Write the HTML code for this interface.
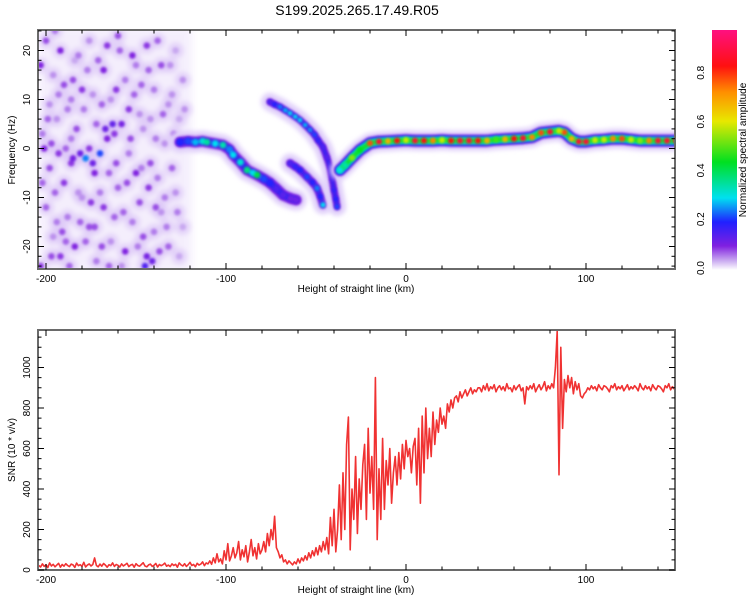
<!DOCTYPE html>
<html><head><meta charset="utf-8"><style>
html,body{margin:0;padding:0;background:#fff;}
svg{display:block;font-family:"Liberation Sans",sans-serif;}
</style></head><body>
<svg id="chart" width="750" height="600" viewBox="0 0 750 600">
<defs>
<filter id="blur1" x="-50%" y="-50%" width="200%" height="200%"><feGaussianBlur stdDeviation="1.2"/></filter>
<filter id="blur2" x="-50%" y="-50%" width="200%" height="200%"><feGaussianBlur stdDeviation="2.5"/></filter>
<filter id="blur4" x="-20%" y="-20%" width="140%" height="140%"><feGaussianBlur stdDeviation="4"/></filter>
<clipPath id="clipTop"><rect x="38" y="30" width="637" height="239"/></clipPath>
<clipPath id="clipBot"><rect x="38" y="330" width="637" height="240"/></clipPath>
<linearGradient id="cbar" x1="0" y1="1" x2="0" y2="0">
<stop offset="0" stop-color="#ffffff"/><stop offset="0.04" stop-color="#c8a8f0"/>
<stop offset="0.1" stop-color="#8020e0"/><stop offset="0.2" stop-color="#2020ff"/>
<stop offset="0.3" stop-color="#00e0f0"/><stop offset="0.45" stop-color="#00e020"/>
<stop offset="0.62" stop-color="#e8e800"/><stop offset="0.74" stop-color="#ff9000"/>
<stop offset="0.85" stop-color="#ff1010"/><stop offset="1" stop-color="#ff1080"/>
</linearGradient>
</defs>
<text x="357" y="15" font-size="14" text-anchor="middle" fill="#000">S199.2025.265.17.49.R05</text>
<g id="topPanel"></g>
<g id="botPanel"></g>
<g id="cb">
<rect x="712" y="30" width="25" height="240" fill="url(#cbar)"/>
<text transform="translate(746,150) rotate(-90)" font-size="10" text-anchor="middle">Normalized spectral amplitude</text>
</g>
</svg>
<script>
// ---------- data ----------
const xTicks = [-200, -100, 0, 100];
const freqTicks = [-20, -10, 0, 10, 20];
const snrTicks = [0, 200, 400, 600, 800, 1000];
const cbTicks = [0.0, 0.2, 0.4, 0.6, 0.8];
const noiseRegionKm = [-204, -119];
// ridge branches: [km, Hz, amplitude]
const ridgeMain = [[-125.6,1.3,.2],[-121,1.5,.22],[-117,1.3,.28],[-113,1.5,.32],[-110.6,1.3,.36],[-106,1.0,.3],[-101.7,0.7,.35],[-98,-0.2,.25],[-96,-1.3,.3],[-92,-2.8,.32],[-88.3,-4.4,.38],[-85,-5.0,.3],[-82.8,-5.4,.42],[-79,-6.2,.22],[-75.6,-7.0,.2],[-72,-8.2,.15],[-68.3,-9.5,.14],[-64,-10.2,.12],[-61,-10.5,.12]];
const ridgeMid = [[-64.4,-3.0,.15],[-61.5,-3.7,.18],[-58.9,-4.4,.2],[-55,-5.8,.22],[-52,-6.9,.2],[-49.4,-8.1,.25],[-47.5,-9.8,.2],[-46.1,-11.5,.3]];
const ridgeUpper = [[-75.6,9.5,.15],[-73,9.0,.2],[-70,8.5,.25],[-67,7.8,.28],[-64.4,7.2,.3],[-61.5,6.5,.3],[-58.9,5.8,.3],[-56,4.8,.28],[-53.3,3.8,.26],[-50.8,2.8,.22],[-48.9,1.7,.18],[-46.1,0.3,.15],[-44,-1.8,.14],[-42.2,-3.8,.15],[-41,-6.2,.15],[-40,-8.5,.18],[-39,-10.3,.2],[-38.3,-11.9,.22]];
const ridgeRight = [[-36.7,-4.4,.3],[-33.9,-3.4,.35],[-30,-1.9,.55],[-25.6,-0.3,.45],[-20,1.1,.8],[-15,1.4,.9],[-10,1.5,.7],[-5,1.6,.85],[0,1.7,.6],[5,1.6,.9],[10,1.6,.85],[15,1.6,.75],[20,1.7,.6],[25,1.6,.85],[30,1.6,.9],[35,1.6,.9],[40,1.6,.85],[45,1.6,.7],[50,1.8,.5],[55,1.9,.7],[60,2.0,.85],[65,2.1,.9],[70,2.3,.75],[75,3.2,.8],[80,3.4,.9],[85,3.6,.6],[88,3.3,.8],[92,2.0,.7],[96,1.4,.9],[100,1.4,.9],[105,1.7,.6],[110,1.8,.6],[115,2.0,.75],[120,2.0,.8],[125,1.8,.6],[130,1.6,.55],[135,1.6,.75],[140,1.6,.9],[145,1.6,.9],[150,1.6,.9]];
const noiseBlobs = [[-200,22,.08],[-196,15,.05],[-192,20,.1],[-188,8,.06],[-184,18,.04],[-180,12,.09],[-176,22,.05],[-172,5,.07],[-168,16,.1],[-164,10,.05],[-160,23,.08],[-156,14,.06],[-152,19,.1],[-148,7,.05],[-144,21,.09],[-140,12,.06],[-136,17,.08],[-132,9,.05],[-128,20,.04],[-124,14,.05],
[-202,3,.06],[-198,-4,.08],[-194,6,.05],[-190,-7,.09],[-186,2,.06],[-182,-9,.05],[-178,-2,.25],[-174,-3,.12],[-170,-1,.22],[-166,2,.1],[-162,3,.09],[-158,5,.11],[-154,-1,.06],[-150,-5,.1],[-146,4,.05],[-142,-3,.08],[-138,-6,.06],[-134,1,.05],[-130,-4,.07],[-126,6,.04],
[-200,-12,.07],[-196,-18,.05],[-192,-22,.09],[-188,-14,.06],[-184,-20,.1],[-180,-10,.05],[-176,-16,.08],[-172,-23,.06],[-168,-12,.09],[-164,-19,.05],[-160,-8,.07],[-156,-21,.1],[-152,-15,.06],[-148,-11,.08],[-144,-22,.11],[-140,-17,.06],[-136,-13,.05],[-132,-20,.07],[-128,-9,.05],[-124,-16,.04],
[-203,-24,.09],[-198,9,.05],[-194,-15,.06],[-190,13,.08],[-186,-3,.09],[-182,19,.06],[-178,-19,.07],[-174,11,.05],[-170,-9,.06],[-166,21,.09],[-162,-14,.07],[-158,-24,.05],[-154,8,.09],[-150,17,.06],[-146,-18,.08],[-142,6,.05],[-138,22,.07],[-134,-10,.06],[-130,11,.05],[-126,-22,.04],
[-201,0,.1],[-197,1,.08],[-193,-1,.09],[-189,0,.07],[-185,-2,.11],[-181,-1,.12],[-176,0,.09],[-173,-5,.1],[-167,4,.12],[-163,5,.13],[-145,-24,.15],[-141,-23,.12],[-155,-7,.08],[-186,10,.06],[-131,17,.05],[-195,-9,.07],
[-203,17,.1],[-199,6,.07],[-195,24,.06],[-191,-17,.08],[-187,-24,.07],[-183,4,.08],[-179,8,.06],[-175,-11,.09],[-171,18,.07],[-169,-20,.08],[-165,-5,.07],[-161,12,.09],[-157,-13,.07],[-153,2,.08],[-149,-20,.06],[-147,13,.07],[-143,-8,.09],[-139,2,.06],[-137,-21,.08],[-135,7,.07],
[-202,-7,.07],[-197,-22,.08],[-193,11,.06],[-189,-19,.07],[-185,14,.08],[-181,-15,.07],[-177,16,.06],[-173,-16,.08],[-169,9,.07],[-165,-24,.07],[-161,-3,.08],[-159,20,.07],[-151,11,.07],[-147,-4,.06],[-143,16,.07],[-139,-12,.08],[-133,-16,.06],[-129,3,.06],[-127,-13,.06],[-123,8,.05]];
// SNR sampled every 1 km starting at -204 km
const snrStartKm = -204;
const snrValues = [22,15,30,18,26,12,35,20,28,16,24,33,14,27,19,31,22,17,29,25,
13,34,21,26,18,38,15,24,30,20,27,60,22,16,29,19,32,24,14,26,
21,35,18,27,23,15,30,20,26,33,17,24,28,14,31,22,19,27,36,20,
16,25,29,18,23,32,15,27,21,26,34,19,24,17,30,22,28,14,35,25,
20,31,18,26,38,22,27,16,33,24,29,40,21,35,30,
45,28,60,35,80,40,55,30,95,50,130,45,70,110,60,
85,140,50,100,65,120,40,90,150,70,110,55,130,80,100,
140,90,180,120,200,150,265,110,
90,60,75,40,50,30,45,35,25,40,
30,55,35,60,45,70,50,85,60,95,70,110,75,120,90,140,100,
160,80,260,120,300,90,200,
420,150,480,200,620,755,100,400,
250,560,180,450,300,520,
620,250,700,380,560,300,
950,150,
500,250,650,300,540,420,600,330,480,560,420,
580,450,620,500,640,560,600,480,610,650,
420,700,330,760,480,800,550,
700,560,780,620,740,680,800,720,
760,700,820,780,840,800,850,
860,830,880,850,870,890,860,880,900,870,890,880,900,
900,880,910,890,920,885,905,895,915,880,900,910,890,905,885,920,895,900,880,910,
890,905,915,885,900,820,905,890,910,895,920,880,900,915,890,905,930,885,910,895,920,900,
1000,1180,470,1100,700,
940,880,960,900,950,870,930,890,920,
860,850,870,880,
900,890,910,895,905,885,915,900,890,910,
905,895,880,910,900,920,890,905,895,910,885,900,915,890,905,895,910,900,885,920,
900,890,910,895,905,885,915,900,890,910,905,895,880,910,900,920,890,905,895,910];

// ---------- scales ----------
const X0 = 38, X1 = 675;
const xKm = km => 406 + km * 1.8;
const yHz = f => 148.5 - f * 4.9;
const ySnr = v => 570 - v * 0.2025;
const yCb = v => 268 - v * 244;
const NS = 'http://www.w3.org/2000/svg';
function mk(tag, attrs, parent) {
  const e = document.createElementNS(NS, tag);
  for (const k in attrs) e.setAttribute(k, attrs[k]);
  parent.appendChild(e);
  return e;
}
const cstops = [[0,[245,238,255]],[0.04,[200,168,240]],[0.1,[128,32,224]],[0.2,[32,32,255]],[0.3,[0,224,240]],[0.45,[0,224,32]],[0.62,[232,232,0]],[0.74,[255,144,0]],[0.85,[255,16,16]],[1,[255,16,128]]];
function cmap(v) {
  for (let i = 1; i < cstops.length; i++) {
    if (v <= cstops[i][0]) {
      const a = cstops[i-1], b = cstops[i], t = (v - a[0]) / (b[0] - a[0]);
      const c = a[1].map((q, j) => Math.round(q + (b[1][j] - q) * t));
      return `rgb(${c[0]},${c[1]},${c[2]})`;
    }
  }
  return 'rgb(255,16,128)';
}

// ---------- top panel ----------
const topG = document.getElementById('topPanel');
const topPlot = mk('g', {'clip-path': 'url(#clipTop)'}, topG);


const bgNoise = mk('rect', {x: xKm(noiseRegionKm[0]), y: 26, width: xKm(noiseRegionKm[1]) - xKm(noiseRegionKm[0]), height: 248, fill: '#eee4fb', opacity: 0.6, filter: 'url(#blur4)'}, topPlot);


const haze = mk('g', {filter: 'url(#blur2)'}, topPlot);
noiseBlobs.forEach(p => {
  const c = mk('circle', {cx: xKm(p[0]), cy: yHz(p[1]), r: 8, fill: '#d8c2f6', opacity: 0.6}, haze);
  
  
});
const blobs = mk('g', {filter: 'url(#blur1)'}, topPlot);
noiseBlobs.forEach(p => {
  const c = mk('circle', {cx: xKm(p[0]), cy: yHz(p[1]), r: 3.3, fill: cmap(p[2])}, blobs);
  
  
});
function pathOf(pts) {
  return pts.map((p, i) => (i ? 'L' : 'M') + xKm(p[0]).toFixed(1) + ',' + yHz(p[1]).toFixed(1)).join('');
}
function drawRidge(pts, name, w, layers) {
  const g = mk('g', {}, topPlot);
  
  
  const d = pathOf(pts);
  mk('path', {d: d, fill: 'none', stroke: '#e0cffa', 'stroke-width': w + 12, 'stroke-linecap': 'round', 'stroke-linejoin': 'round', filter: 'url(#blur2)'}, g);
  layers.forEach(L => {
    mk('path', {d: d, fill: 'none', stroke: L[0], 'stroke-width': L[1], 'stroke-linecap': 'round', 'stroke-linejoin': 'round', filter: 'url(#blur1)'}, g);
  });
  const cg = mk('g', {filter: 'url(#blur1)'}, g);
  pts.forEach(p => {
    const c = mk('circle', {cx: xKm(p[0]), cy: yHz(p[1]), r: w * 0.38, fill: cmap(p[2])}, cg);
    
    
  });
}
drawRidge(ridgeMain, 'ridge-main', 9, [['#7a20e0', 11], ['#3020f0', 6]]);
drawRidge(ridgeMid, 'ridge-lower-branch', 7, [['#7a20e0', 8], ['#4020f0', 4]]);
drawRidge(ridgeUpper, 'ridge-upper-branch', 6, [['#7a20e0', 7], ['#3a20f0', 4]]);
drawRidge(ridgeRight, 'ridge-right-band', 8, [['#7020e0', 12], ['#2030ff', 9], ['#00d8f0', 7], ['#10e030', 5]]);

function frame(parent, y0, y1, name) {
  const r = mk('rect', {x: X0, y: y0, width: X1 - X0, height: y1 - y0, fill: 'none', stroke: '#6a6a6a', 'stroke-width': 2}, parent);
  
  
}
function xAxis(parent, y0, y1) {
  for (let km = -200; km <= 140; km += 20) {
    const x = xKm(km), major = km % 100 === 0, L = major ? 6 : 3.5;
    mk('line', {x1: x, y1: y1, x2: x, y2: y1 - L, stroke: '#000', 'stroke-width': 1}, parent);
    mk('line', {x1: x, y1: y0, x2: x, y2: y0 + L, stroke: '#000', 'stroke-width': 1}, parent);
  }
  xTicks.forEach(t => {
    const tx = mk('text', {x: xKm(t), y: y1 + 13, 'font-size': 10, 'text-anchor': 'middle'}, parent);
    tx.textContent = t;
    
    
  });
  const tt = mk('text', {x: 356, y: y1 + 23, 'font-size': 10, 'text-anchor': 'middle'}, parent);
  tt.textContent = 'Height of straight line (km)';
  
  
}
frame(topG, 30, 269, 'spectrogram-frame');
xAxis(topG, 30, 269);
for (let f = -24; f <= 24; f += 2) {
  const y = yHz(f), L = f % 10 === 0 ? 6 : 3.5;
  mk('line', {x1: X0, y1: y, x2: X0 + L, y2: y, stroke: '#000'}, topG);
  mk('line', {x1: X1, y1: y, x2: X1 - L, y2: y, stroke: '#000'}, topG);
}
freqTicks.forEach(t => {
  const tx = mk('text', {transform: `translate(30,${yHz(t)}) rotate(-90)`, 'font-size': 10, 'text-anchor': 'middle'}, topG);
  tx.textContent = t;
  
  
});
const yt1 = mk('text', {transform: 'translate(15,150) rotate(-90)', 'font-size': 10, 'text-anchor': 'middle'}, topG);
yt1.textContent = 'Frequency (Hz)';



// ---------- bottom panel ----------
const botG = document.getElementById('botPanel');
const snrPath = snrValues.map((v, i) => (i ? 'L' : 'M') + xKm(snrStartKm + i).toFixed(1) + ',' + ySnr(v).toFixed(1)).join('');
const snrLine = mk('path', {d: snrPath, fill: 'none', stroke: '#f03232', 'stroke-width': 1.6, 'stroke-linejoin': 'round', 'clip-path': 'url(#clipBot)'}, botG);


frame(botG, 330, 570, 'snr-frame');
xAxis(botG, 330, 570);
for (let v = 0; v <= 1150; v += 50) {
  const y = ySnr(v), L = v % 200 === 0 ? 6 : 3.5;
  mk('line', {x1: X0, y1: y, x2: X0 + L, y2: y, stroke: '#000'}, botG);
  mk('line', {x1: X1, y1: y, x2: X1 - L, y2: y, stroke: '#000'}, botG);
}
snrTicks.forEach(t => {
  const tx = mk('text', {transform: `translate(30,${ySnr(t)}) rotate(-90)`, 'font-size': 10, 'text-anchor': 'middle'}, botG);
  tx.textContent = t;
  
  
});
const yt2 = mk('text', {transform: 'translate(15,450) rotate(-90)', 'font-size': 10, 'text-anchor': 'middle'}, botG);
yt2.textContent = 'SNR (10 * v/v)';



// ---------- colorbar ticks ----------
const cbG = document.getElementById('cb');
cbTicks.forEach(t => {
  const tx = mk('text', {transform: `translate(704,${yCb(t)}) rotate(-90)`, 'font-size': 10, 'text-anchor': 'middle'}, cbG);
  tx.textContent = t.toFixed(1);
  
  
});
</script>
</body></html>
